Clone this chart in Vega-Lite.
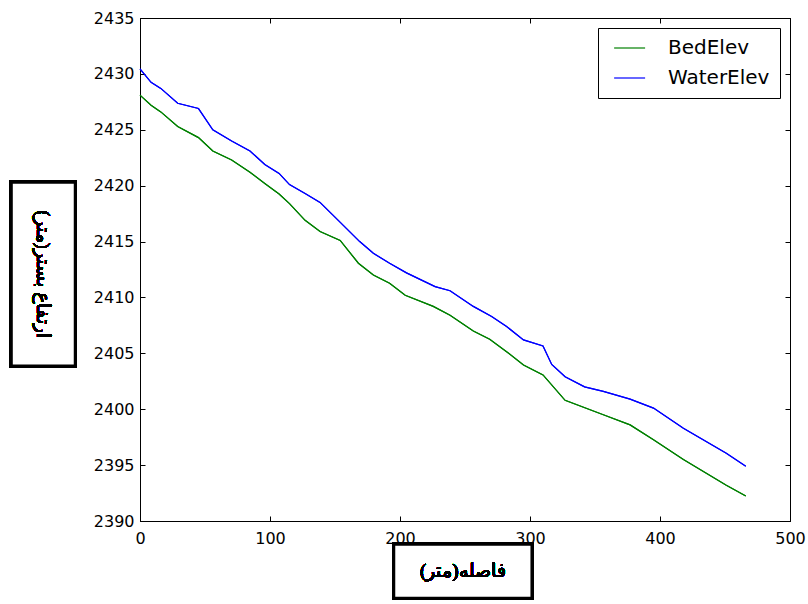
{
  "$schema": "https://vega.github.io/schema/vega-lite/v6.json",
  "width": 650,
  "height": 503,
  "autosize": {"type": "none"},
  "padding": {"left": 140, "top": 18, "right": 18, "bottom": 83},
  "background": "white",
  "config": {
    "view": {"stroke": "black", "strokeWidth": 1},
    "axis": {
      "domainColor": "black",
      "domainWidth": 1,
      "tickColor": "black",
      "tickSize": -5,
      "tickWidth": 1,
      "grid": false,
      "labelFont": "DejaVu Sans",
      "labelFontSize": 16,
      "labelColor": "black",
      "labelFlush": false,
      "labelOverlap": false,
      "title": null
    },
    "axisX": {"labelPadding": 14},
    "axisY": {"labelPadding": 11},
    "legend": {
      "orient": "top-right",
      "offset": 10,
      "strokeColor": "black",
      "strokeWidth": 1,
      "fillColor": "white",
      "padding": 10,
      "labelFont": "DejaVu Sans",
      "labelFontSize": 20,
      "labelColor": "black",
      "labelOffset": 40,
      "rowPadding": 10,
      "symbolType": "M-0.5,0H3.5",
      "symbolSize": 240,
      "symbolStrokeWidth": 1.2,
      "title": null
    }
  },
  "data": {
    "values": [
      {"dist": 0, "elev": 2430.44, "series": "WaterElev"},
      {"dist": 8.5, "elev": 2429.25, "series": "WaterElev"},
      {"dist": 16, "elev": 2428.7, "series": "WaterElev"},
      {"dist": 29, "elev": 2427.37, "series": "WaterElev"},
      {"dist": 45, "elev": 2426.9, "series": "WaterElev"},
      {"dist": 56, "elev": 2425.0, "series": "WaterElev"},
      {"dist": 70.5, "elev": 2424.0, "series": "WaterElev"},
      {"dist": 84.6, "elev": 2423.1, "series": "WaterElev"},
      {"dist": 96, "elev": 2421.9, "series": "WaterElev"},
      {"dist": 107, "elev": 2421.1, "series": "WaterElev"},
      {"dist": 115, "elev": 2420.1, "series": "WaterElev"},
      {"dist": 127, "elev": 2419.3, "series": "WaterElev"},
      {"dist": 138.5, "elev": 2418.5, "series": "WaterElev"},
      {"dist": 152.5, "elev": 2416.9, "series": "WaterElev"},
      {"dist": 169, "elev": 2415.0, "series": "WaterElev"},
      {"dist": 179.5, "elev": 2413.95, "series": "WaterElev"},
      {"dist": 192, "elev": 2413.06, "series": "WaterElev"},
      {"dist": 205, "elev": 2412.2, "series": "WaterElev"},
      {"dist": 227, "elev": 2410.97, "series": "WaterElev"},
      {"dist": 238.5, "elev": 2410.6, "series": "WaterElev"},
      {"dist": 256.4, "elev": 2409.2, "series": "WaterElev"},
      {"dist": 270.5, "elev": 2408.3, "series": "WaterElev"},
      {"dist": 282, "elev": 2407.4, "series": "WaterElev"},
      {"dist": 295, "elev": 2406.2, "series": "WaterElev"},
      {"dist": 310, "elev": 2405.66, "series": "WaterElev"},
      {"dist": 316.7, "elev": 2404.0, "series": "WaterElev"},
      {"dist": 327, "elev": 2402.9, "series": "WaterElev"},
      {"dist": 342, "elev": 2402.0, "series": "WaterElev"},
      {"dist": 356.4, "elev": 2401.6, "series": "WaterElev"},
      {"dist": 377, "elev": 2400.9, "series": "WaterElev"},
      {"dist": 395, "elev": 2400.1, "series": "WaterElev"},
      {"dist": 418, "elev": 2398.3, "series": "WaterElev"},
      {"dist": 451, "elev": 2396.06, "series": "WaterElev"},
      {"dist": 466, "elev": 2394.9, "series": "WaterElev"},
      {"dist": 0, "elev": 2428.1, "series": "BedElev"},
      {"dist": 8.5, "elev": 2427.2, "series": "BedElev"},
      {"dist": 16, "elev": 2426.6, "series": "BedElev"},
      {"dist": 29, "elev": 2425.3, "series": "BedElev"},
      {"dist": 45, "elev": 2424.3, "series": "BedElev"},
      {"dist": 56, "elev": 2423.1, "series": "BedElev"},
      {"dist": 70.5, "elev": 2422.3, "series": "BedElev"},
      {"dist": 84.6, "elev": 2421.2, "series": "BedElev"},
      {"dist": 96, "elev": 2420.2, "series": "BedElev"},
      {"dist": 107, "elev": 2419.26, "series": "BedElev"},
      {"dist": 115, "elev": 2418.4, "series": "BedElev"},
      {"dist": 127, "elev": 2416.9, "series": "BedElev"},
      {"dist": 138.5, "elev": 2415.9, "series": "BedElev"},
      {"dist": 154, "elev": 2415.1, "series": "BedElev"},
      {"dist": 168, "elev": 2413.06, "series": "BedElev"},
      {"dist": 179.5, "elev": 2412.0, "series": "BedElev"},
      {"dist": 192, "elev": 2411.27, "series": "BedElev"},
      {"dist": 204, "elev": 2410.2, "series": "BedElev"},
      {"dist": 225.6, "elev": 2409.2, "series": "BedElev"},
      {"dist": 238.5, "elev": 2408.4, "series": "BedElev"},
      {"dist": 256.4, "elev": 2407.0, "series": "BedElev"},
      {"dist": 269, "elev": 2406.26, "series": "BedElev"},
      {"dist": 282, "elev": 2405.15, "series": "BedElev"},
      {"dist": 295, "elev": 2403.96, "series": "BedElev"},
      {"dist": 310, "elev": 2403.07, "series": "BedElev"},
      {"dist": 327, "elev": 2400.8, "series": "BedElev"},
      {"dist": 356.4, "elev": 2399.5, "series": "BedElev"},
      {"dist": 377, "elev": 2398.6, "series": "BedElev"},
      {"dist": 395, "elev": 2397.26, "series": "BedElev"},
      {"dist": 418, "elev": 2395.5, "series": "BedElev"},
      {"dist": 451, "elev": 2393.2, "series": "BedElev"},
      {"dist": 466, "elev": 2392.24, "series": "BedElev"}
    ]
  },
  "layer": [
    {
      "mark": {"type": "line", "strokeWidth": 1.2},
      "encoding": {
        "x": {"field": "dist", "type": "quantitative", "scale": {"domain": [0, 500], "nice": false}, "axis": {"orient": "bottom", "values": [0, 100, 200, 300, 400, 500], "format": "d"}},
        "y": {"field": "elev", "type": "quantitative", "scale": {"domain": [2390, 2435], "nice": false, "zero": false}, "axis": {"orient": "left", "values": [2390, 2395, 2400, 2405, 2410, 2415, 2420, 2425, 2430, 2435], "format": "d"}},
        "color": {"field": "series", "type": "nominal", "scale": {"domain": ["BedElev", "WaterElev"], "range": ["#008000", "#0000ff"]}},
        "order": {"field": "dist", "type": "quantitative"}
      }
    },
    {
      "mark": {"type": "line", "strokeWidth": 1.2},
      "encoding": {
        "x": {"field": "dist", "type": "quantitative", "axis": {"orient": "top", "labels": false, "values": [0, 100, 200, 300, 400, 500]}},
        "y": {"field": "elev", "type": "quantitative", "axis": {"orient": "right", "labels": false, "values": [2390, 2395, 2400, 2405, 2410, 2415, 2420, 2425, 2430, 2435]}},
        "color": {"field": "series", "type": "nominal"},
        "order": {"field": "dist", "type": "quantitative"}
      }
    },
    {
      "mark": {"type": "rect", "fill": "white", "stroke": "black", "strokeWidth": 3},
      "encoding": {
        "x": {"datum": -99, "type": "quantitative", "axis": null},
        "x2": {"datum": -49.8},
        "y": {"datum": 2420.31, "type": "quantitative", "axis": null},
        "y2": {"datum": 2403.87}
      }
    },
    {
      "mark": {"type": "text", "angle": 90, "font": "Liberation Serif", "fontSize": 19, "color": "black", "align": "center", "baseline": "middle"},
      "encoding": {
        "x": {"datum": -74.4, "type": "quantitative", "axis": null},
        "y": {"datum": 2412.1, "type": "quantitative", "axis": null},
        "text": {"value": "ارتفاع بستر(متر)"}
      }
    },
    {
      "mark": {"type": "rect", "fill": "white", "stroke": "black", "strokeWidth": 3},
      "encoding": {
        "x": {"datum": 195.2, "type": "quantitative", "axis": null},
        "x2": {"datum": 301.5},
        "y": {"datum": 2387.91, "type": "quantitative", "axis": null},
        "y2": {"datum": 2383.08}
      }
    },
    {
      "mark": {"type": "text", "font": "Liberation Serif", "fontSize": 19, "color": "black", "align": "center", "baseline": "middle"},
      "encoding": {
        "x": {"datum": 248.3, "type": "quantitative", "axis": null},
        "y": {"datum": 2385.5, "type": "quantitative", "axis": null},
        "text": {"value": "فاصله(متر)"}
      }
    }
  ],
  "resolve": {"axis": {"x": "independent", "y": "independent"}}
}
